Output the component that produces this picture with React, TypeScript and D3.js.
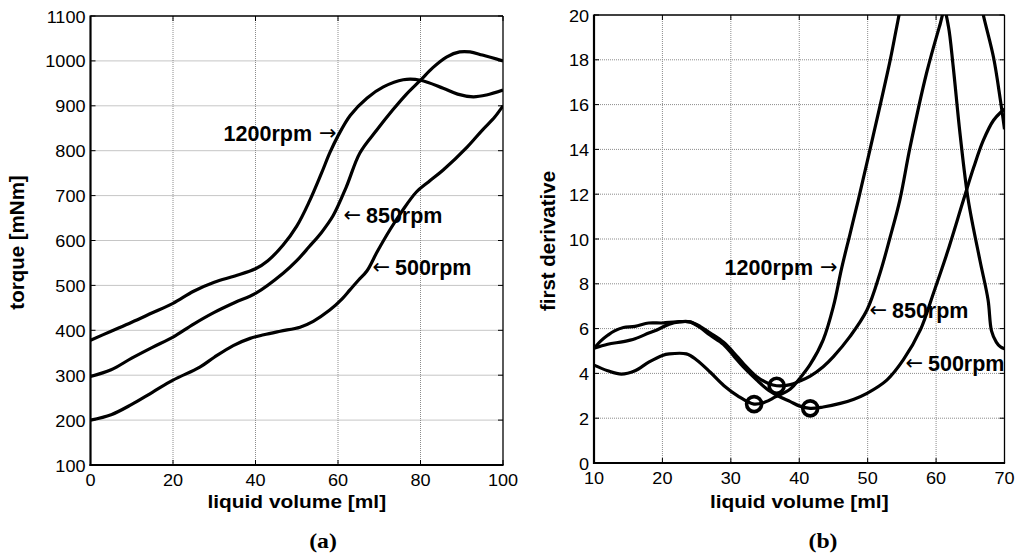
import React from 'react';
import * as d3 from 'd3';

type Pt = [number, number];

// ---------- Panel (a): torque ----------
const torqueTicksX = [0, 20, 40, 60, 80, 100];
const torqueTicksY = [100, 200, 300, 400, 500, 600, 700, 800, 900, 1000, 1100];

const torque1200: Pt[] = [
  [0, 378], [5, 398], [10, 418], [15, 439], [20, 460], [25, 487], [30, 507], [35, 521], [40, 537],
  [43, 555], [46.7, 590], [50, 632], [53, 686], [56, 750], [58, 795], [60, 833], [63, 879], [67, 917],
  [71, 942], [75.8, 958], [80, 957], [85.5, 939], [89, 926], [92.8, 920], [96, 924], [100, 935],
];
const torque850: Pt[] = [
  [0, 297], [5, 312], [10, 338], [15, 362], [20, 385], [25, 414], [30, 440], [35, 462], [40, 482],
  [46.7, 527], [50, 555], [53, 586], [56, 618], [58.8, 655], [62, 719], [65.3, 795], [69.4, 846],
  [73.3, 891], [76.5, 925], [80, 957], [83, 985], [86.4, 1009], [89.5, 1020], [92, 1020], [95, 1013], [100, 1000],
];
const torque500: Pt[] = [
  [0, 200], [5, 212], [10, 235], [15, 262], [20, 289], [26.5, 318], [30, 340], [34.6, 366], [38.7, 382],
  [42, 390], [46, 398], [50.8, 407], [54, 420], [58, 445], [61, 470], [62.9, 490], [65, 512], [67, 532],
  [69.5, 575], [72.6, 624], [75.5, 665], [79, 708], [82, 731], [85.5, 757], [91.3, 808], [95, 846],
  [98, 875], [100, 900],
];

// ---------- Panel (b): first derivative ----------
const derivTicksX = [10, 20, 30, 40, 50, 60, 70];
const derivTicksY = [0, 2, 4, 6, 8, 10, 12, 14, 16, 18, 20];

const deriv1200: Pt[] = [
  [10, 4.37], [12, 4.12], [14, 3.97], [16, 4.12], [18, 4.5], [20, 4.8], [21, 4.87], [23.5, 4.87],
  [25, 4.6], [27, 4.05], [29, 3.45], [31, 3.0], [33.4, 2.63], [35, 2.72], [36.5, 2.95], [38.7, 3.3],
  [40, 3.75], [41.6, 4.4], [43.5, 5.5], [45, 7.0], [46.2, 8.7], [47.4, 10.2], [48.6, 11.7], [50.8, 14.6],
  [53.3, 18.0], [54.2, 19.4], [55, 20.6], [57, 23], [60, 24.5], [63, 24], [65.5, 22], [66.9, 20],
  [68.4, 18.1], [69.4, 16.2], [70, 14.9],
];
const deriv850: Pt[] = [
  [10, 5.12], [11, 5.45], [12, 5.7], [13, 5.9], [14.3, 6.05], [16, 6.1], [18, 6.25], [20, 6.25],
  [22, 6.3], [24, 6.3], [25.5, 6.1], [27, 5.8], [28.9, 5.4], [30.5, 4.9], [31.8, 4.45], [33.8, 3.85],
  [35.5, 3.55], [36.7, 3.45], [38.7, 3.5], [40, 3.65], [41.6, 3.88], [43.5, 4.3], [45, 4.75],
  [47.4, 5.64], [49.9, 6.83], [51.8, 8.47], [53.3, 10.1], [54.7, 11.74], [56.2, 14.1], [58.6, 17.4],
  [60.6, 19.6], [61.2, 20.2], [61.8, 19.5], [62.5, 17.7], [63.5, 14.7], [64.7, 11.74], [66.4, 9.06],
  [67.6, 7.28], [68.1, 5.9], [68.8, 5.4], [69.4, 5.19], [70, 5.1],
];
const deriv500: Pt[] = [
  [10, 5.12], [12, 5.3], [14.3, 5.42], [16, 5.55], [18, 5.8], [19.2, 5.94], [21, 6.2], [22.5, 6.3],
  [24, 6.3], [25.5, 6.05], [27, 5.7], [28.9, 5.3], [30.5, 4.75], [31.8, 4.3], [33.8, 3.7], [35.5, 3.25],
  [37, 2.98], [38.7, 2.74], [40, 2.55], [41.6, 2.44], [43.5, 2.5], [46, 2.66], [48, 2.85], [49.9, 3.11],
  [52.8, 3.7], [55.2, 4.6], [57.7, 5.94], [59.6, 7.57], [61.6, 9.36], [64, 11.74], [65.5, 13.2],
  [66.9, 14.4], [68.4, 15.3], [69.6, 15.7], [70, 15.8],
];
const derivMinima: Pt[] = [[33.4, 2.63], [36.7, 3.45], [41.6, 2.44]];

type Note = { text: string; x: number; y: number; arrow: 'left' | 'right' };
const torqueNotes: Note[] = [
  { text: '1200rpm', x: 312, y: 133, arrow: 'right' },
  { text: '850rpm', x: 366, y: 215, arrow: 'left' },
  { text: '500rpm', x: 395, y: 267, arrow: 'left' },
];
const derivNotes: Note[] = [
  { text: '1200rpm', x: 813, y: 267, arrow: 'right' },
  { text: '850rpm', x: 892, y: 310, arrow: 'left' },
  { text: '500rpm', x: 928, y: 363, arrow: 'left' },
];

const SANS = '"Liberation Sans", Arial, sans-serif';
const ARROWFONT = '"DejaVu Sans", sans-serif';
const SERIF = '"Liberation Serif", "Times New Roman", serif';
const SX = 1.13;

type PanelProps = {
  id: string;
  xDomain: [number, number];
  yDomain: [number, number];
  xRange: [number, number];
  yRange: [number, number];
  xTicks: number[];
  yTicks: number[];
  series: Pt[][];
  markers?: Pt[];
  yLabel: string;
  yLabelX: number;
  caption: string;
  captionX: number;
  notes: Note[];
};

function Panel(p: PanelProps) {
  const x = d3.scaleLinear().domain(p.xDomain).range(p.xRange);
  const y = d3.scaleLinear().domain(p.yDomain).range(p.yRange);
  const line = d3
    .line<Pt>()
    .x((d) => x(d[0]))
    .y((d) => y(d[1]))
    .curve(d3.curveCatmullRom.alpha(0.5));
  const [x0, x1] = p.xRange;
  const [yb, yt] = p.yRange;
  const tl = 5;
  const gridStyle = { stroke: '#8c8c8c', strokeWidth: 1, strokeDasharray: '1 1' };
  const cx = (x0 + x1) / 2;
  const cy = (yb + yt) / 2;
  return (
    <g>
      <defs>
        <clipPath id={`clip-${p.id}`}>
          <rect x={x0} y={yt} width={x1 - x0} height={yb - yt} />
        </clipPath>
      </defs>
      {p.xTicks.slice(1, -1).map((t) => (
        <line key={`gx${t}`} x1={x(t)} x2={x(t)} y1={yt} y2={yb} style={gridStyle} />
      ))}
      {p.yTicks.slice(1, -1).map((t) => (
        <line key={`gy${t}`} x1={x0} x2={x1} y1={y(t)} y2={y(t)} style={gridStyle} />
      ))}
      {p.xTicks.map((t) => (
        <g key={`tx${t}`} stroke="#000" strokeWidth={1}>
          <line x1={x(t)} x2={x(t)} y1={yb} y2={yb - tl} />
          <line x1={x(t)} x2={x(t)} y1={yt} y2={yt + tl} />
        </g>
      ))}
      {p.yTicks.map((t) => (
        <g key={`ty${t}`} stroke="#000" strokeWidth={1}>
          <line x1={x0} x2={x0 + tl} y1={y(t)} y2={y(t)} />
          <line x1={x1} x2={x1 - tl} y1={y(t)} y2={y(t)} />
        </g>
      ))}
      <g clipPath={`url(#clip-${p.id})`}>
        {p.series.map((s, i) => (
          <path key={i} d={line(s) || ''} fill="none" stroke="#000" strokeWidth={3.2} strokeLinejoin="round" />
        ))}
      </g>
      {(p.markers || []).map((m, i) => (
        <circle key={`m${i}`} cx={x(m[0])} cy={y(m[1])} r={7.5} fill="none" stroke="#000" strokeWidth={3.6} />
      ))}
      <line x1={x0} x2={x1} y1={yt} y2={yt} stroke="#000" strokeWidth={1.3} />
      <line x1={x1} x2={x1} y1={yt} y2={yb} stroke="#000" strokeWidth={1.3} />
      <line x1={x0} x2={x0} y1={yt - 0.5} y2={yb + 1} stroke="#000" strokeWidth={2.2} />
      <line x1={x0 - 1} x2={x1 + 0.6} y1={yb} y2={yb} stroke="#000" strokeWidth={2.2} />
      {p.xTicks.map((t) => (
        <text
          key={`lx${t}`}
          transform={`translate(${x(t)},${yb + 21}) scale(${SX},1)`}
          textAnchor="middle"
          fontFamily={SANS}
          fontSize={16}
        >
          {t}
        </text>
      ))}
      {p.yTicks.map((t) => (
        <text
          key={`ly${t}`}
          transform={`translate(${x0 - 5},${y(t) + 6.5}) scale(${SX},1)`}
          textAnchor="end"
          fontFamily={SANS}
          fontSize={16}
        >
          {t}
        </text>
      ))}
      <text
        transform={`translate(${cx},${508}) scale(${SX},1)`}
        textAnchor="middle"
        fontFamily={SANS}
        fontWeight="bold"
        fontSize={18.5}
      >
        liquid volume [ml]
      </text>
      <text
        transform={`translate(${p.yLabelX},${cy + 2}) rotate(-90)`}
        textAnchor="middle"
        fontFamily={SANS}
        fontWeight="bold"
        fontSize={20.5}
      >
        {p.yLabel}
      </text>
      <text
        transform={`translate(${p.captionX},${548}) scale(${SX},1)`}
        textAnchor="middle"
        fontFamily={SERIF}
        fontWeight="bold"
        fontSize={21}
      >
        {p.caption}
      </text>
      {p.notes.map((n, i) =>
        n.arrow === 'right' ? (
          <g key={`n${i}`}>
            <text x={n.x} y={n.y + 7.8} textAnchor="end" fontWeight="bold" fontFamily={SANS} fontSize={21.5}>
              {n.text}
            </text>
            <text x={n.x + 7} y={n.y + 7.2} textAnchor="start" fontFamily={ARROWFONT} fontSize={21}>
              {'\u2192'}
            </text>
          </g>
        ) : (
          <g key={`n${i}`}>
            <text x={n.x} y={n.y + 7.8} textAnchor="start" fontWeight="bold" fontFamily={SANS} fontSize={21.5}>
              {n.text}
            </text>
            <text x={n.x - 5} y={n.y + 7.2} textAnchor="end" fontFamily={ARROWFONT} fontSize={21}>
              {'\u2190'}
            </text>
          </g>
        )
      )}
    </g>
  );
}

export default function App() {
  return (
    <svg
      width={1016}
      height={556}
      style={{ position: 'absolute', left: 0, top: 0, background: '#fff' }}
    >
      <rect width={1016} height={556} fill="#fff" />
      <Panel
        id="a"
        xDomain={[0, 100]}
        yDomain={[100, 1100]}
        xRange={[90.5, 503]}
        yRange={[465, 16]}
        xTicks={torqueTicksX}
        yTicks={torqueTicksY}
        series={[torque1200, torque850, torque500]}
        yLabel="torque [mNm]"
        yLabelX={24}
        caption="(a)"
        captionX={323}
        notes={torqueNotes}
      />
      <Panel
        id="b"
        xDomain={[10, 70]}
        yDomain={[0, 20]}
        xRange={[594, 1004.5]}
        yRange={[463, 15]}
        xTicks={derivTicksX}
        yTicks={derivTicksY}
        series={[deriv1200, deriv850, deriv500]}
        markers={derivMinima}
        yLabel="first derivative"
        yLabelX={555}
        caption="(b)"
        captionX={823}
        notes={derivNotes}
      />
    </svg>
  );
}
